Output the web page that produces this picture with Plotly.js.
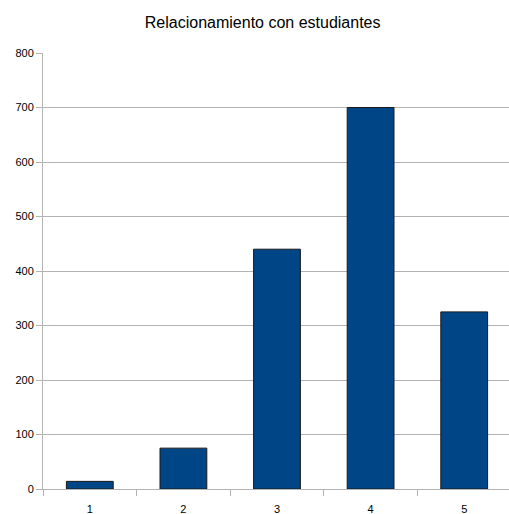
<!DOCTYPE html>
<html>
<head>
<meta charset="utf-8">
<script src="https://cdn.plot.ly/plotly-3.0.1.min.js"></script>
<style>html,body{margin:0;padding:0;background:#fff;overflow:hidden;}#chart{width:511px;height:514px;}</style>
</head>
<body>
<div id="chart"></div>
<script>
const categories = ["1", "2", "3", "4", "5"];
const values = [14, 75, 440, 700, 325];
const yTicks = [0, 100, 200, 300, 400, 500, 600, 700, 800];

const trace = {
  type: "bar",
  x: categories,
  y: values,
  width: 0.5,
  marker: {color: "#004586", line: {color: "#1a1a1a", width: 1}},
  hoverinfo: "x+y"
};

const layout = {
  width: 511,
  height: 514,
  margin: {l: 43, r: 0, t: 53, b: 25, pad: 0},
  paper_bgcolor: "#ffffff",
  plot_bgcolor: "#ffffff",
  font: {family: "Liberation Sans, Arial, sans-serif", size: 11, color: "#000"},
  title: {text: "Relacionamiento con estudiantes", font: {size: 16, color: "#000"}, x: 0.514, xanchor: "center", y: 0.957, yanchor: "middle"},
  showlegend: false,
  bargap: 0.5,
  xaxis: {
    type: "category",
    tickson: "boundaries",
    ticks: "outside",
    ticklen: 6,
    tickcolor: "#b3b3b3",
    showgrid: false,
    showline: true,
    linecolor: "#b3b3b3",
    linewidth: 1,
    ticklabelstandoff: 10,
    automargin: false,
    tickfont: {size: 11}
  },
  yaxis: {
    range: [0, 800],
    tickvals: yTicks,
    ticks: "outside",
    ticklen: 6,
    tickcolor: "#b3b3b3",
    showgrid: true,
    gridcolor: "#b3b3b3",
    showline: true,
    linecolor: "#b3b3b3",
    zeroline: false,
    automargin: false,
    tickfont: {size: 11}
  }
};

Plotly.newPlot("chart", [trace], layout, {displayModeBar: false, staticPlot: true});
</script>
</body>
</html>
